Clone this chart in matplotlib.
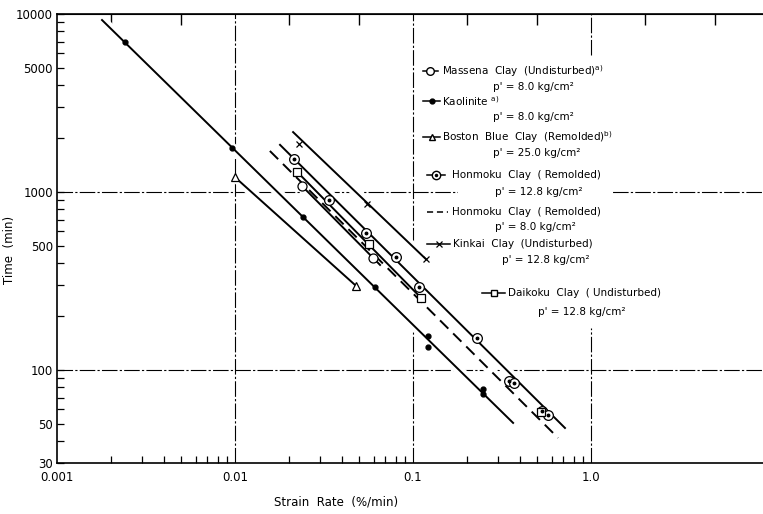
import matplotlib.pyplot as plt
from matplotlib.patches import Rectangle

# strain rate (%/min) vs time (min)
kaolinite_x = [0.0024, 0.0096, 0.024, 0.061, 0.121, 0.121, 0.247, 0.247]
kaolinite_y = [7000, 1770, 724, 292, 155, 135, 78, 73]
kaolinite_line_x = [0.00179, 0.365]
kaolinite_line_y = [9250, 50.4]

boston_x = [0.010, 0.048]
boston_y = [1210, 296]

massena_x = [0.0238, 0.0596]
massena_y = [1080, 426]
massena_line_x = [0.0238, 0.0653]
massena_line_y = [1080, 389]

honmoku128_x = [0.0214, 0.0338, 0.0545, 0.0802, 0.108, 0.229, 0.345, 0.37, 0.53, 0.57]
honmoku128_y = [1530, 900, 588, 431, 292, 151, 87, 84, 59, 56]
honmoku128_line_x = [0.0179, 0.714]
honmoku128_line_y = [1840, 47.2]

honmoku80_line_x = [0.0157, 0.653]
honmoku80_line_y = [1700, 41.5]

kinkai_x = [0.0229, 0.0552, 0.118]
kinkai_y = [1860, 857, 420]
kinkai_line_x = [0.0212, 0.118]
kinkai_line_y = [2170, 420]

daikoku_x = [0.0223, 0.0566, 0.111, 0.524]
daikoku_y = [1300, 511, 254, 58]
daikoku_line_x = [0.0223, 0.111]
daikoku_line_y = [1300, 254]

x_ticks = [0.001, 0.01, 0.1, 1.0]
x_labels = ['0.001', '0.01', '0.1', '1.0']
y_ticks = [30, 50, 100, 500, 1000, 5000, 10000]
y_labels = ['30', '50', '100', '500', '1000', '5000', '10000']

W, H = 763, 514
fig = plt.figure(figsize=(W / 100, H / 100), dpi=100)
ax = fig.add_axes([57 / W, 51 / H, 706 / W, 449 / H])
ax.set_xscale('log')
ax.set_yscale('log')
ax.set_xlim(0.001, 9.25)
ax.set_ylim(30, 10000)

# grid lines (broken where the original was erased)
gs = dict(color='black', lw=0.8, ls=(0, (14, 2, 2, 2)), zorder=1)
ax.axhline(100, **gs)
ax.axhline(1000, **gs)
ax.axvline(0.01, **gs)
ax.axvline(0.1, ymin=0, ymax=0.292, **gs)
ax.axvline(0.1, ymin=0.49, ymax=1, **gs)
ax.axvline(1.0, ymin=0, ymax=0.30, **gs)
ax.axvline(1.0, ymin=0.909, ymax=1, **gs)

lines = [
    (kaolinite_line_x, kaolinite_line_y, '-'),
    (boston_x, boston_y, '-'),
    (massena_line_x, massena_line_y, '-'),
    (honmoku128_line_x, honmoku128_line_y, '-'),
    (honmoku80_line_x, honmoku80_line_y, (0, (6, 3.5))),
    (kinkai_line_x, kinkai_line_y, '-'),
    (daikoku_line_x, daikoku_line_y, '-'),
]
# white halos first so the grid breaks around the lines
for lx, ly, ls in lines:
    ax.plot(lx, ly, color='white', lw=7, solid_capstyle='butt', zorder=1.5)
for lx, ly, ls in lines:
    ax.plot(lx, ly, color='black', lw=1.4, ls=ls, zorder=2)

ax.plot(kaolinite_x, kaolinite_y, 'o', color='black', ms=3.5, zorder=3)
ax.plot(boston_x, boston_y, '^', mfc='white', mec='black', mew=0.9, ms=6, zorder=3)
ax.plot(massena_x, massena_y, 'o', mfc='white', mec='black', mew=0.9, ms=6.5, zorder=3)
ax.plot(honmoku128_x, honmoku128_y, 'o', mfc='white', mec='black', mew=0.9, ms=7, zorder=3)
ax.plot(honmoku128_x, honmoku128_y, 'o', color='black', ms=1.8, zorder=4)
ax.plot(kinkai_x, kinkai_y, 'x', color='black', mew=0.9, ms=5, zorder=3)
ax.plot(daikoku_x, daikoku_y, 's', mfc='white', mec='black', mew=0.9, ms=6, zorder=3)

# axes, ticks
ax.spines['right'].set_visible(False)
for s in ['top', 'left', 'bottom']:
    ax.spines[s].set_linewidth(1.2)
ax.set_xticks(x_ticks)
ax.set_xticklabels(x_labels)
ax.set_xticks([k * 10.0 ** e for e in (-3, -2, -1) for k in range(2, 10)], minor=True)
ax.set_yticks(y_ticks)
ax.set_yticklabels(y_labels)
ax.set_yticks([v for v in [40, 60, 70, 80, 90, 200, 300, 400, 600, 700, 800, 900,
                           2000, 3000, 4000, 6000, 7000, 8000, 9000]], minor=True)
ax.tick_params(axis='x', which='major', length=0, pad=6, labelsize=8.5)
ax.tick_params(axis='x', which='minor', direction='in', length=5, width=0.9)
ax.tick_params(axis='y', which='major', direction='in', length=5, width=0.9, pad=3, labelsize=8.5)
ax.tick_params(axis='y', which='minor', direction='in', length=5, width=0.9)
ax.tick_params(axis='y', which='minor', labelleft=False)

top = ax.secondary_xaxis('top')
top.set_xticks([0.002, 0.005, 0.02, 0.05, 0.2, 0.5, 2, 5])
top.set_xticks([], minor=True)
top.tick_params(direction='in', length=8, width=1.0, labeltop=False)

fig.text(336 / W, 1 - 502 / H, 'Strain  Rate  (%/min)', ha='center', va='center', fontsize=8.5)
fig.text(10 / W, 1 - 250 / H, 'Time  (min)', ha='center', va='center', rotation=90, fontsize=8.5)


# legend drawn by hand, positions in pixels of the figure
def fx(x):
    return x / W


def fy(y):
    return 1 - y / H


def key(x0, x1, y, ls='-', **mk):
    fig.add_artist(plt.Line2D([fx(x0), fx(x1)], [fy(y), fy(y)], transform=fig.transFigure,
                              color='black', lw=1.1, ls=ls, zorder=5))
    if mk:
        fig.add_artist(plt.Line2D([fx((x0 + x1) / 2)], [fy(y)], transform=fig.transFigure,
                                  color='black', zorder=6, **mk))


tk = dict(fontsize=7.5, va='center', ha='left', zorder=6)

key(423, 438, 71, marker='o', mfc='white', mec='black', ms=5.5)
fig.text(fx(442), fy(71), 'Massena  Clay  (Undisturbed)$^{\\rm a)}$', **tk)
fig.text(fx(493), fy(87), "p' = 8.0 kg/cm²", **tk)

key(423, 440, 101, marker='o', ms=3.5)
fig.text(fx(442), fy(101), 'Kaolinite $^{\\rm a)}$', **tk)
fig.text(fx(493), fy(117), "p' = 8.0 kg/cm²", **tk)

key(423, 440, 137, marker='^', mfc='white', mec='black', ms=5)
fig.text(fx(442), fy(137), 'Boston  Blue  Clay  (Remolded)$^{\\rm b)}$', **tk)
fig.text(fx(493), fy(153), "p' = 25.0 kg/cm²", **tk)

key(427, 445, 175, marker='o', mfc='white', mec='black', ms=6)
key(436, 436, 175, marker='o', ms=1.5)
fig.text(fx(452), fy(175), 'Honmoku  Clay  ( Remolded)', **tk)
# gap in the 1000 grid line around this row
fig.add_artist(Rectangle((fx(458), fy(197)), fx(613) - fx(458), fy(187) - fy(197),
                         transform=fig.transFigure, facecolor='white', edgecolor='none', zorder=4))
fig.text(fx(495), fy(192), "p' = 12.8 kg/cm²", **tk)

key(427, 448, 212, ls=(0, (4, 2.5)))
fig.text(fx(452), fy(212), 'Honmoku  Clay  ( Remolded)', **tk)
fig.text(fx(495), fy(227), "p' = 8.0 kg/cm²", **tk)

key(427, 450, 244, marker='x', ms=4.5, mew=0.9)
fig.text(fx(453), fy(244), 'Kinkai  Clay  (Undisturbed)', **tk)
fig.text(fx(502), fy(260), "p' = 12.8 kg/cm²", **tk)

key(482, 505, 293, marker='s', mfc='white', mec='black', ms=5)
fig.text(fx(508), fy(293), 'Daikoku  Clay  ( Undisturbed)', **tk)
fig.text(fx(538), fy(312), "p' = 12.8 kg/cm²", **tk)

plt.savefig('out.png', dpi=100)
